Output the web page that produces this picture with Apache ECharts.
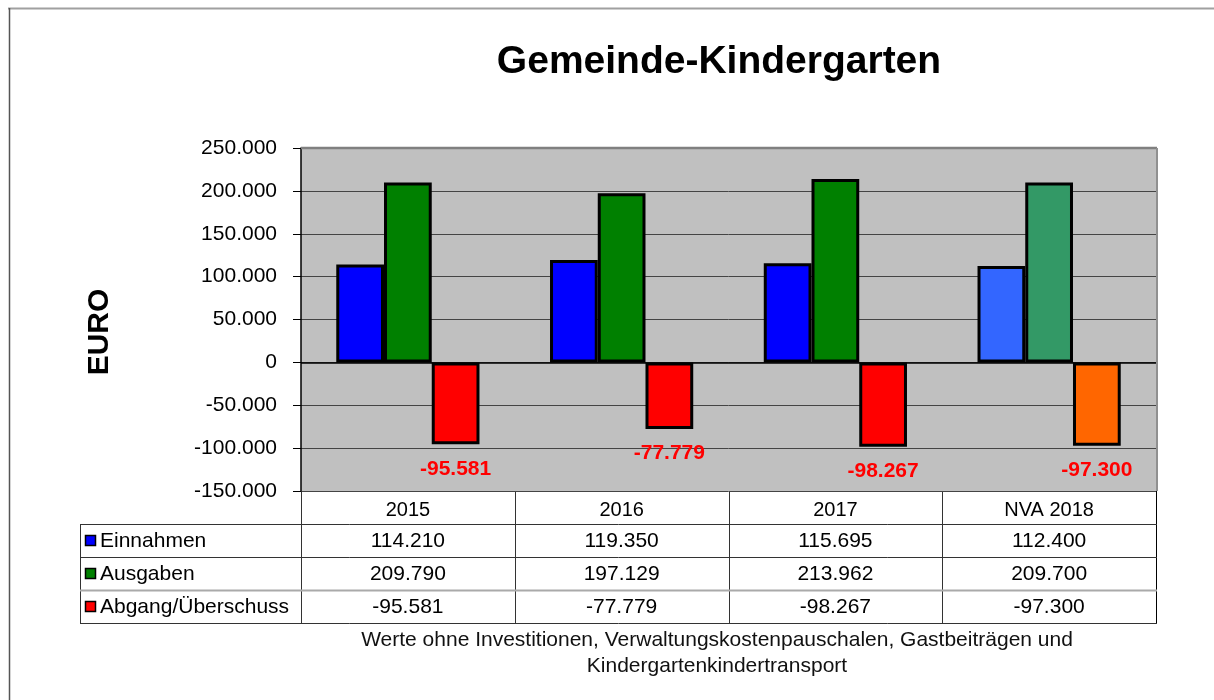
<!DOCTYPE html>
<html>
<head>
<meta charset="utf-8">
<script src="https://cdn.jsdelivr.net/npm/echarts@6/dist/echarts.min.js"></script>
<style>
  html, body { margin: 0; padding: 0; background: #fff; }
  #chart { width: 1214px; height: 700px; }
</style>
</head>
<body>
<div id="chart"></div>
<script>
// data
var categories = ['2015', '2016', '2017', 'NVA 2018'];
var seriesNames = ['Einnahmen', 'Ausgaben', 'Abgang/Überschuss'];
var einnahmen = [114210, 119350, 115695, 112400];
var ausgaben = [209790, 197129, 213962, 209700];
var abgang = [-95581, -77779, -98267, -97300];
var yTicks = [-150000, -100000, -50000, 0, 50000, 100000, 150000, 200000, 250000];

var colors = ['#0000ff', '#008000', '#ff0000'];
// last column (NVA) uses other colors
var colorsNva = ['#3366ff', '#339966', '#ff6600'];

// plot box
var G = { left: 301, top: 148, width: 855, height: 343 };
var rowH = 33;

function fmt(v) {
  var s = Math.abs(v).toString();
  var out = s.replace(/\B(?=(\d{3})+(?!\d))/g, '.');
  return (v < 0 ? '-' : '') + out;
}

function makeData(values, si) {
  return values.map(function (v, i) {
    return {
      value: v,
      itemStyle: { color: i === categories.length - 1 ? colorsNva[si] : colors[si] }
    };
  });
}

var myChart = echarts.init(document.getElementById('chart'));

// table below the plot
var graphics = [];
var colW = G.width / categories.length;
var tTop = G.top + G.height;
var tableLeft = 80;
var lineColor = '#333';
var tFont = '21px "Liberation Sans", Arial';

// outer frame
graphics.push({ type: 'line', shape: { x1: 8, y1: 8.5, x2: 1214, y2: 8.5 }, style: { stroke: '#a0a0a0', lineWidth: 2 } });
graphics.push({ type: 'line', shape: { x1: 9.5, y1: 8, x2: 9.5, y2: 700 }, style: { stroke: '#555', lineWidth: 1.5 } });

// EURO
graphics.push({
  type: 'text', x: 100, y: 332, rotation: Math.PI / 2,
  style: { text: 'EURO', font: 'bold 30px "Liberation Sans", Arial', fill: '#000', textAlign: 'center', textVerticalAlign: 'middle' }
});

// vertical lines
for (var c = 0; c <= categories.length; c++) {
  var x = Math.round(G.left + c * colW) + 0.5;
  graphics.push({ type: 'line', shape: { x1: x, y1: tTop, x2: x, y2: tTop + rowH * 4 }, style: { stroke: c === categories.length ? '#000' : lineColor, lineWidth: 1 } });
}
graphics.push({ type: 'line', shape: { x1: tableLeft + 0.5, y1: tTop + rowH, x2: tableLeft + 0.5, y2: tTop + rowH * 4 }, style: { stroke: lineColor, lineWidth: 1 } });
// horizontal lines
for (var r = 1; r <= 4; r++) {
  var y = tTop + r * rowH + 0.5;
  graphics.push({
    type: 'line', shape: { x1: tableLeft, y1: y, x2: G.left + G.width + 1, y2: y },
    style: { stroke: r === 3 ? '#aaa' : lineColor, lineWidth: r === 3 ? 2 : 1 }
  });
}

var rows = [einnahmen, ausgaben, abgang];
rows.forEach(function (vals, ri) {
  var cy = tTop + rowH * (ri + 1) + rowH / 2;
  graphics.push({
    type: 'rect', shape: { x: 85.5, y: cy - 5, width: 10, height: 10 },
    style: { fill: colors[ri], stroke: '#000', lineWidth: 1.5 }
  });
  graphics.push({
    type: 'text', x: 100, y: cy + 1,
    style: { text: seriesNames[ri], font: tFont, fill: '#000', textVerticalAlign: 'middle' }
  });
  vals.forEach(function (v, ci) {
    graphics.push({
      type: 'text', x: G.left + colW * (ci + 0.5), y: cy + 1,
      style: { text: fmt(v), font: tFont, fill: '#000', textAlign: 'center', textVerticalAlign: 'middle' }
    });
  });
});

// footnote
graphics.push({
  type: 'text', x: 717, y: 640,
  style: { text: 'Werte ohne Investitionen, Verwaltungskostenpauschalen, Gastbeiträgen und', font: '21px "Liberation Sans", Arial', fill: '#111', textAlign: 'center', textVerticalAlign: 'middle' }
});
graphics.push({
  type: 'text', x: 717, y: 666,
  style: { text: 'Kindergartenkindertransport', font: '21px "Liberation Sans", Arial', fill: '#111', textAlign: 'center', textVerticalAlign: 'middle' }
});

// plot frame top/right (gray)
graphics.push({ type: 'line', shape: { x1: G.left, y1: G.top, x2: G.left + G.width + 1, y2: G.top }, style: { stroke: '#808080', lineWidth: 2.5 }, z: 10 });
graphics.push({ type: 'line', shape: { x1: G.left + G.width + 1, y1: G.top, x2: G.left + G.width + 1, y2: G.top + G.height }, style: { stroke: '#909090', lineWidth: 2 }, z: 10 });

myChart.setOption({
  animation: false,
  backgroundColor: '#fff',
  textStyle: { fontFamily: '"Liberation Sans", Arial, sans-serif' },
  title: {
    text: 'Gemeinde-Kindergarten',
    left: 714, top: 38, textAlign: 'center',
    textStyle: { fontSize: 39, fontWeight: 'bold', color: '#000' }
  },
  grid: { left: G.left, top: G.top, width: G.width, height: G.height, show: true, backgroundColor: '#c0c0c0', borderWidth: 0 },
  xAxis: {
    type: 'category',
    data: categories,
    position: 'bottom',
    axisLine: { show: false },
    axisTick: { show: false },
    axisLabel: { color: '#000', fontSize: 20, margin: 9, interval: 0 },
    splitLine: { show: false }
  },
  yAxis: {
    type: 'value',
    min: yTicks[0],
    max: yTicks[yTicks.length - 1],
    interval: 50000,
    axisLine: { show: true, onZero: false, lineStyle: { color: '#000', width: 1.5 } },
    axisTick: { show: true, length: 8, lineStyle: { color: '#000' } },
    axisLabel: { color: '#000', fontSize: 21, margin: 24, formatter: function (v) { return fmt(v); } },
    splitLine: { show: true, lineStyle: { color: '#444', width: 1 } }
  },
  graphic: graphics,
  series: [
    {
      name: seriesNames[0], type: 'bar', data: makeData(einnahmen, 0),
      barGap: '0%', barCategoryGap: '33%',
      itemStyle: { borderColor: '#000', borderWidth: 3 }
    },
    {
      name: seriesNames[1], type: 'bar', data: makeData(ausgaben, 1),
      itemStyle: { borderColor: '#000', borderWidth: 3 }
    },
    {
      name: seriesNames[2], type: 'bar', data: makeData(abgang, 2),
      itemStyle: { borderColor: '#000', borderWidth: 3 },
      label: {
        show: true, position: 'bottom', distance: 14,
        color: '#ff0000', fontWeight: 'bold', fontSize: 21,
        formatter: function (p) { return fmt(p.value); }
      },
      markLine: {
        silent: true, symbol: 'none', label: { show: false },
        lineStyle: { color: '#000', type: 'solid', width: 1.5 },
        data: [{ yAxis: 0 }], z: 1
      }
    }
  ]
});
</script>
</body>
</html>
